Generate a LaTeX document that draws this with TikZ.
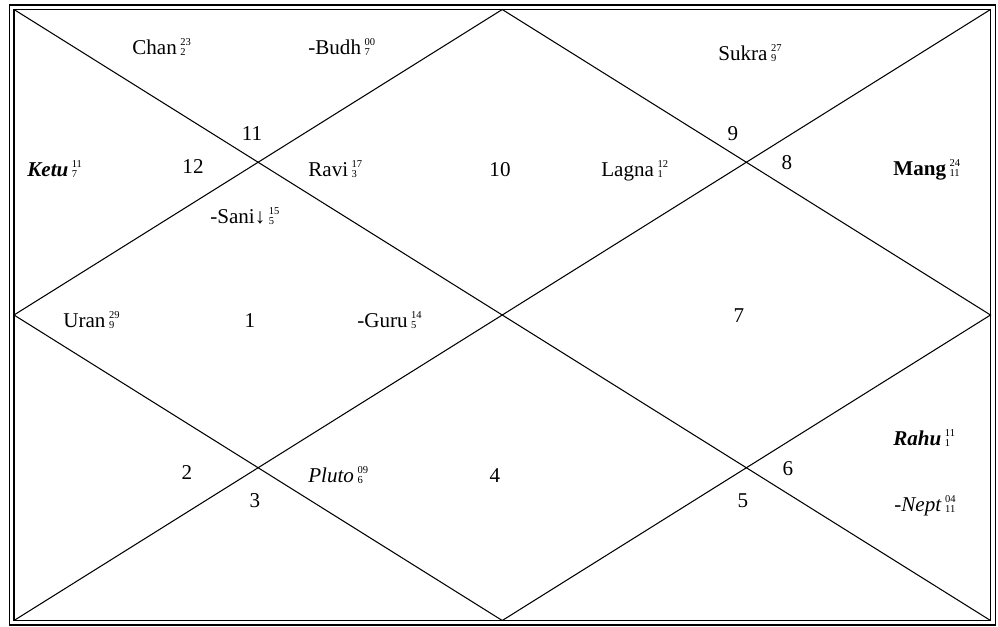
\documentclass[tikz,border=0pt]{standalone}
\usepackage{fontspec}
\setmainfont{Liberation Serif}
\usepackage{tikz}
\usetikzlibrary{positioning,calc}

% small stacked degree / sign figures after a planet name
\newcommand{\dgs}[2]{\,\raisebox{-1pt}{\normalfont\fontsize{6}{5.5}\selectfont\begin{tabular}[b]{@{}l@{}}#1\\#2\end{tabular}}}

\begin{document}
\begin{tikzpicture}[
    x=0.02cm, y=-0.02cm,
    font=\fontsize{12}{14}\selectfont,
    frame/.style={draw, line width=1pt},
    grid/.style={draw, line width=0.6pt},
    planet/.style={anchor=base west, inner sep=0pt},
    house/.style={anchor=base, inner sep=0pt},
  ]
    \useasboundingbox (0,0) rectangle (998,626);
    % double border
    \draw[frame] (9.5,5) rectangle (995.5,625);
    \draw[frame] (14,9.5) rectangle (990.5,620.5);
    % chart lines
    \coordinate (tl) at (14,9.5);
    \coordinate (tr) at (990.5,9.5);
    \coordinate (bl) at (14,620.5);
    \coordinate (br) at (990.5,620.5);
    \coordinate (tm) at ($(tl)!0.5!(tr)$);
    \coordinate (bm) at ($(bl)!0.5!(br)$);
    \coordinate (ml) at ($(tl)!0.5!(bl)$);
    \coordinate (mr) at ($(tr)!0.5!(br)$);
    \draw[grid] (tl) -- (br);
    \draw[grid] (tr) -- (bl);
    \draw[grid] (tm) -- (mr) -- (bm) -- (ml) -- cycle;

    % house numbers
    \node[house] (h1) at (250,327) {1};
    \node[house] (h2) at (187,479) {2};
    \node[house] (h3) at (255,507) {3};
    \node[house] (h4) at (495,482) {4};
    \node[house] (h5) at (743,507) {5};
    \node[house] (h6) at (788,475) {6};
    \node[house] (h7) at (739,322) {7};
    \node[house] (h8) at (787,169) {8};
    \node[house] (h9) at (733,140) {9};
    \node[house] (h10) at (500,176) {10};
    \node[house] (h11) at (252,140) {11};
    \node[house] (h12) at (193,173) {12};

    % planets
    \node[planet] (chan) at (132,54) {Chan\dgs{23}{2}};
    \node[planet] (budh) at (308,54) {-Budh\dgs{00}{7}};
    \node[planet] (sukra) at (718,60) {Sukra\dgs{27}{9}};
    \node[planet] (ketu) at (27,176) {\bfseries\itshape Ketu\dgs{11}{7}};
    \node[planet] (ravi) at (308,176) {Ravi\dgs{17}{3}};
    \node[planet] (lagna) at (601,176) {Lagna\dgs{12}{1}};
    \node[planet] (mang) at (893,175) {\bfseries Mang\dgs{24}{11}};
    \node[planet] (sani) at (210,223) {-Sani↓\dgs{15}{5}};
    \node[planet] (uran) at (63,327) {Uran\dgs{29}{9}};
    \node[planet] (guru) at (357,327) {-Guru\dgs{14}{5}};
    \node[planet] (pluto) at (308,482) {\itshape Pluto\dgs{09}{6}};
    \node[planet] (rahu) at (893,445) {\bfseries\itshape Rahu\dgs{11}{1}};
    \node[planet] (nept) at (894,511) {-\textit{Nept}\dgs{04}{11}};
\end{tikzpicture}
\end{document}
